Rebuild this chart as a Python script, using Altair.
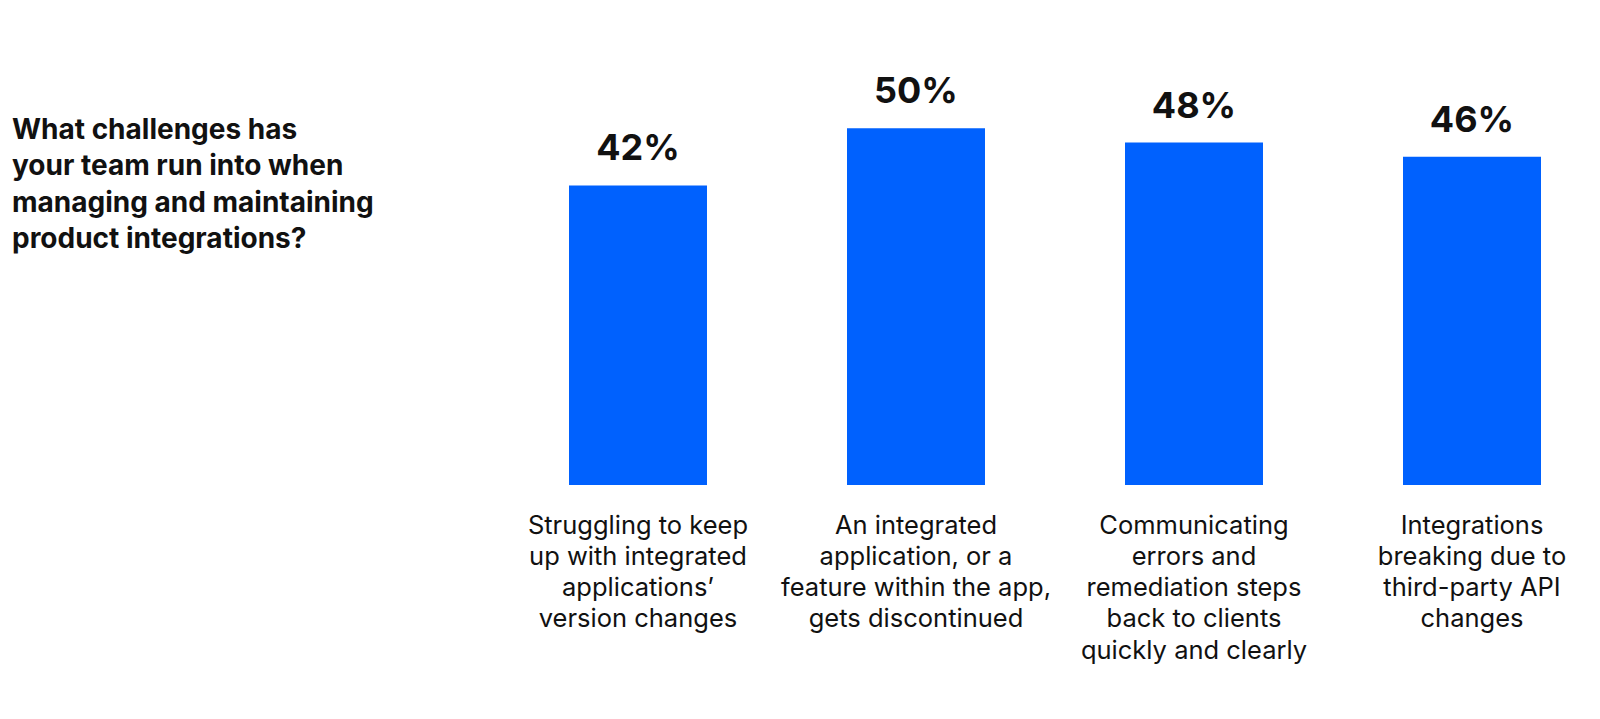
import altair as alt
import pandas as pd

categories = [
    "Struggling to keep|up with integrated|applications’|version changes",
    "An integrated|application, or a|feature within the app,|gets discontinued",
    "Communicating|errors and|remediation steps|back to clients|quickly and clearly",
    "Integrations|breaking due to|third-party API|changes",
]
values = [42, 50, 48, 46]
value_labels = ["42%", "50%", "48%", "46%"]
title_lines = [
    "What challenges has",
    "your team run into when",
    "managing and maintaining",
    "product integrations?",
]

df = pd.DataFrame({"cat": categories, "val": values, "lab": value_labels})

FONT = "Inter"
BLUE = "#0061FE"
INK = "#111111"

x = alt.X(
    "cat:N",
    sort=categories,
    scale=alt.Scale(paddingInner=0.5036, paddingOuter=0),
    axis=alt.Axis(
        title=None,
        domain=False,
        ticks=False,
        grid=False,
        labelAngle=0,
        labelExpr="split(datum.label, '|')",
        labelFont=FONT,
        labelFontSize=25.5,
        labelColor=INK,
        labelLineHeight=31.3,
        labelBaseline="alphabetic",
        labelPadding=48,
        labelLimit=400,
        labelAlign="center",
    ),
)
y = alt.Y("val:Q", scale=alt.Scale(domain=[0, 60]), axis=None)

bars = alt.Chart(df).mark_bar(color=BLUE).encode(x=x, y=y)
texts = alt.Chart(df).mark_text(
    font=FONT, fontSize=36, fontWeight="bold", color=INK, baseline="alphabetic", dy=-25
).encode(x=x, y=y, text="lab:N")

chart = (
    alt.layer(bars, texts)
    .properties(
        width=972,
        height=428,
        autosize=alt.AutoSizeParams(type="none"),
        padding={"left": 561, "top": 49, "right": 45, "bottom": 200},
        background="white",
        title=alt.TitleParams(
            text=title_lines,
            anchor="start",
            orient="top",
            frame="group",
            font=FONT,
            fontSize=28,
            fontWeight="bold",
            color=INK,
            lineHeight=36.3,
            baseline="alphabetic",
            offset=0,
            dx=-557,
            dy=219,
        ),
    )
    .configure_view(strokeWidth=0, stroke=None)
)

chart.save("out.html", embed_options={"renderer": "svg", "actions": False})
